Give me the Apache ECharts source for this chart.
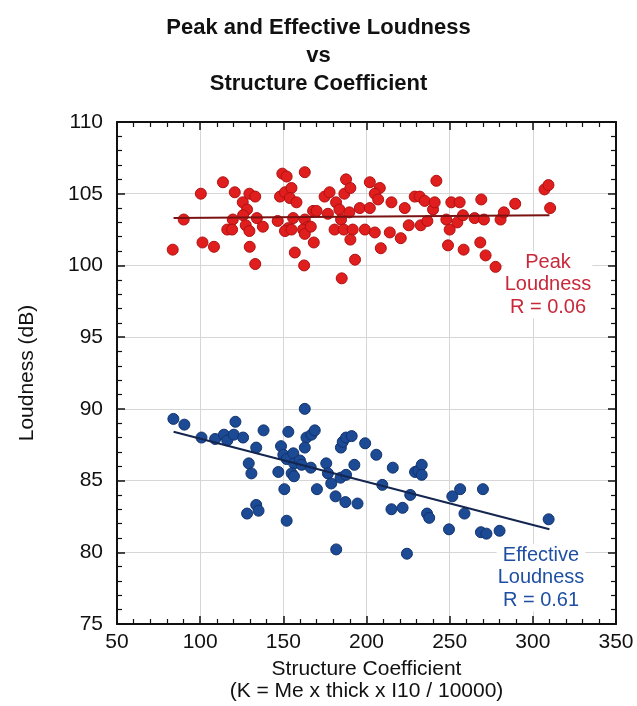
<!DOCTYPE html>
<html><head><meta charset="utf-8">
<script src="https://cdn.jsdelivr.net/npm/echarts@6/dist/echarts.min.js"></script>
<style>html,body{margin:0;padding:0;background:#fff}#c{width:637px;height:706px}</style>
</head><body><div id="c"></div>
<script>
const peakX = [83.5,90.1,100.4,101.4,108.3,113.7,119.6,116.3,119.2,120.8,125.6,128.2,125.8,129.6,133.1,127.4,129.6,134.1,137.7,129.8,133.1,146.6,148.0,149.4,152.0,151.0,154.9,153.9,157.9,155.9,152.9,151.0,154.9,156.9,162.9,162.9,164.9,161.9,162.9,166.5,167.9,170.0,162.5,168.3,174.8,177.8,176.8,181.7,183.7,180.8,184.7,187.7,186.7,190.3,189.7,186.3,191.7,190.3,196.0,193.1,185.1,199.0,202.0,202.0,208,205,207,205,208.6,215,214,220.6,223,225.4,229,232,235,232.6,236.6,240,241,242,248,250,249,251,256,254.6,258,258.4,265,269,270.6,268.4,271.6,277.6,280.6,282.6,289.4,307,309.4,310.4];
const peakY = [101.1,103.2,105.0,101.6,101.3,105.8,103.2,102.5,102.5,105.1,104.4,103.9,103.5,105.0,104.8,102.8,102.4,103.3,102.7,101.3,100.1,103.1,104.8,106.4,106.2,105.1,105.4,104.7,104.4,103.3,102.6,102.4,102.5,100.9,106.5,103.2,102.7,102.5,102.2,102.7,103.8,103.8,100.0,101.6,104.8,105.1,103.6,104.4,103.9,102.5,103.2,106.0,105.0,105.4,103.7,102.5,102.5,101.8,104.0,100.4,99.1,102.5,105.8,104.0,105.4,105.0,104.6,102.3,101.2,104.4,102.3,101.9,104.0,102.8,104.8,104.8,104.5,102.8,103.1,103.9,104.4,105.9,103.2,102.5,101.4,104.4,104.4,103.0,103.5,101.1,103.3,104.6,103.2,101.6,100.7,99.9,103.2,103.7,104.3,105.3,105.6,104.0];
const effX = [83.9,90.5,100.8,109,114.3,116.3,120.2,121.2,125.8,129.2,130.8,133.7,138.1,128.2,133.7,135.1,147,148.6,150,152,153,156,156.5,160,161,155,156.4,150.6,152,162.9,163.9,166.9,168.9,162.9,166.5,170.2,175.8,176.8,178.8,181.4,181.8,187.3,194.6,184.4,187.7,184.6,185.7,187.7,191.1,192.7,199.2,205.9,215.8,209.5,215,221.7,226.3,224.3,229.2,231.2,233.2,233.2,236.4,237.7,249.6,251.6,256.3,258.9,270,268.8,272.1,280,309.5];
const effY = [89.3,88.9,88.0,87.9,88.2,87.8,88.2,89.1,88.0,86.2,85.5,87.3,88.5,82.7,83.3,82.9,85.6,87.4,86.8,86.5,88.4,86.9,86.2,86.4,86.1,85.5,85.3,84.4,82.2,90.0,88.0,88.2,88.5,87.3,85.9,84.4,86.2,85.5,84.8,83.9,80.2,83.5,83.4,85.2,85.4,87.3,87.7,88.0,88.1,86.1,87.6,86.8,85.9,84.7,83.0,83.1,84.0,79.9,85.6,85.7,86.1,85.4,82.7,82.4,81.6,83.9,84.4,82.7,84.4,81.4,81.3,81.5,82.3];
const peakFitX = [84, 310];
const peakFitY = [103.3, 103.5];
const effFitX = [84, 310];
const effFitY = [88.4, 81.6];
const xTicks = [50,100,150,200,250,300,350];
const yTicks = [75,80,85,90,95,100,105,110];

const zip = (a,b) => a.map((v,i)=>[v,b[i]]);
const FONT = 'Liberation Sans';
const axisBase = {
  axisLine:{show:true,onZero:false,lineStyle:{color:'#111',width:2}},
  axisTick:{show:true,inside:true,length:8,lineStyle:{color:'#111',width:1.5}},
  minorTick:{show:true,splitNumber:5,length:5,lineStyle:{color:'#111',width:1.2}},
};
const chart = echarts.init(document.getElementById('c'), null, {renderer:'canvas'});
chart.setOption({
  backgroundColor:'#fff',
  animation:false,
  title:{
    text:'Peak and Effective Loudness\nvs\nStructure Coefficient',
    left:'center', top:9,
    textStyle:{fontFamily:FONT,fontWeight:'bold',fontSize:22,lineHeight:28,color:'#111'}
  },
  grid:{left:117,right:21,top:122,bottom:82,containLabel:false,outerBoundsMode:'none'},
  xAxis:[
    Object.assign({type:'value',min:xTicks[0],max:xTicks[xTicks.length-1],interval:50,position:'bottom',
      axisLabel:{fontFamily:FONT,fontSize:21,color:'#111',margin:8},
      splitLine:{show:true,lineStyle:{color:'#d6d6d6',width:1}},
      name:'Structure Coefficient\n(K = Me x thick x I10 / 10000)',nameLocation:'middle',nameGap:34,
      nameTextStyle:{fontFamily:FONT,fontSize:21,lineHeight:22,color:'#111',verticalAlign:'top'}
    },axisBase),
    Object.assign({type:'value',min:50,max:350,interval:50,position:'top',axisLabel:{show:false},splitLine:{show:false}},axisBase)
  ],
  yAxis:[
    Object.assign({type:'value',min:yTicks[0],max:yTicks[yTicks.length-1],interval:5,position:'left',
      axisLabel:{fontFamily:FONT,fontSize:21,color:'#111',margin:14},
      splitLine:{show:true,lineStyle:{color:'#d6d6d6',width:1}},
      name:'Loudness (dB)',nameLocation:'middle',nameGap:79,
      nameTextStyle:{fontFamily:FONT,fontSize:21,color:'#111'}
    },axisBase),
    Object.assign({type:'value',min:75,max:110,interval:5,position:'right',axisLabel:{show:false},splitLine:{show:false}},axisBase)
  ],
  series:[
    {type:'scatter',data:zip(peakX,peakY),symbolSize:11,itemStyle:{color:'#e01e1e',borderColor:'#b01010',borderWidth:1,opacity:1},z:3},
    {type:'scatter',data:zip(effX,effY),symbolSize:11,itemStyle:{color:'#1c4a94',borderColor:'#12336e',borderWidth:1,opacity:1},z:3},
    {type:'line',data:zip(peakFitX,peakFitY),symbol:'none',lineStyle:{color:'#7a1212',width:2},z:4},
    {type:'line',data:zip(effFitX,effFitY),symbol:'none',lineStyle:{color:'#14264f',width:2},z:4}
  ],
  graphic:[
    {type:'text',x:548,y:251,z:10,style:{text:'Peak\nLoudness\nR = 0.06',fontFamily:FONT,fontSize:20,lineHeight:22.5,fill:'#c8283a',align:'center',verticalAlign:'top',backgroundColor:'#fff',padding:[0,1]}},
    {type:'text',x:541,y:544,z:10,style:{text:'Effective\nLoudness\nR = 0.61',fontFamily:FONT,fontSize:20,lineHeight:22.5,fill:'#1f4fa3',align:'center',verticalAlign:'top',backgroundColor:'#fff',padding:[0,1]}}
  ]
});
</script>
</body></html>
